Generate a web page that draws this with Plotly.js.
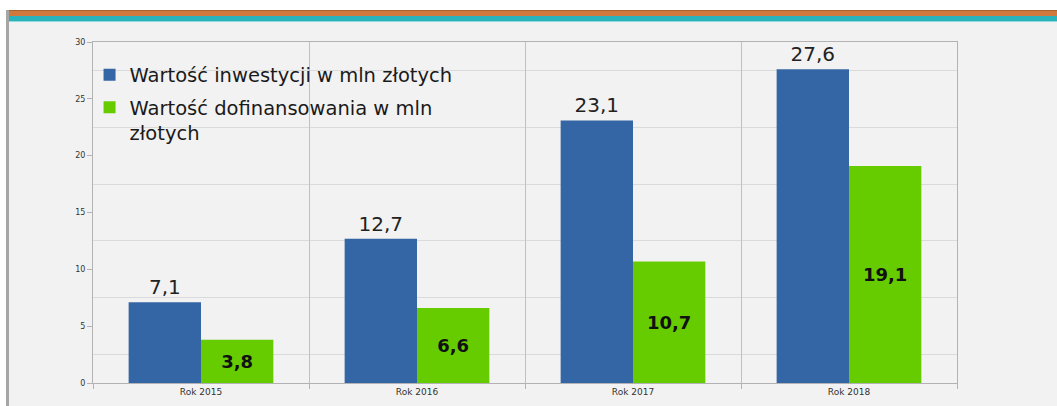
<!DOCTYPE html>
<html>
<head>
<meta charset="utf-8">
<script src="https://cdn.plot.ly/plotly-3.0.1.min.js"></script>
<style>
  html, body { margin:0; padding:0; width:1057px; height:406px; overflow:hidden; background:#f2f2f2; }
  #top-white { position:absolute; left:0; top:0; width:1057px; height:10px; background:#ffffff; }
  #band-orange { position:absolute; left:9px; top:10px; width:1048px; height:6px; background:#cf7a3c; border-top:1px solid #a86232; box-sizing:border-box; }
  #band-teal { position:absolute; left:9px; top:16px; width:1048px; height:6px; background:#2bb3bb; border-bottom:1px solid #8fdbe0; box-sizing:border-box; }
  #left-white { position:absolute; left:0; top:0; width:6px; height:406px; background:#ffffff; }
  #left-border { position:absolute; left:6px; top:10px; width:3px; height:396px; background:#a6a6a6; }
  #chart { position:absolute; left:0; top:0; width:1057px; height:406px; }
</style>
</head>
<body>
<div id="top-white"></div>
<div id="left-white"></div>
<div id="band-orange"></div>
<div id="band-teal"></div>
<div id="left-border"></div>
<div id="chart"></div>
<script>
const categories = ["Rok 2015", "Rok 2016", "Rok 2017", "Rok 2018"];
const seriesNames = ["Wartość inwestycji w mln złotych", "Wartość dofinansowania w mln<br>złotych"];
const investment = [7.1, 12.7, 23.1, 27.6];
const cofinancing = [3.8, 6.6, 10.7, 19.1];
const yTicks = [0, 5, 10, 15, 20, 25, 30];

const FONT = "DejaVu Sans, Verdana, sans-serif";

const traces = [
  {
    type: "bar",
    name: seriesNames[0],
    legendgroup: "a",
    x: categories,
    y: investment,
    marker: { color: "#3465a4", line: { width: 0 } },
    texttemplate: "%{y:.1f}",
    textposition: "outside",
    cliponaxis: false,
    textfont: { family: FONT, size: 20, color: "#222222" },
    hoverinfo: "x+y"
  },
  {
    type: "bar",
    name: seriesNames[1],
    legendgroup: "b",
    x: categories,
    y: cofinancing,
    marker: { color: "#66cc00", line: { width: 0 } },
    texttemplate: "%{y:.1f}",
    textposition: "inside",
    insidetextanchor: "middle",
    constraintext: "none",
    textangle: 0,
    textfont: { family: FONT, size: 18, color: "#111111", weight: "bold" },
    hoverinfo: "x+y"
  }
];

const layout = {
  width: 1057,
  height: 406,
  margin: { l: 93, r: 100, t: 42, b: 23, pad: 0 },
  paper_bgcolor: "rgba(0,0,0,0)",
  plot_bgcolor: "#f2f2f2",
  separators: ",.",
  barmode: "group",
  bargap: 0.33,
  bargroupgap: 0,
  font: { family: FONT, color: "#333333" },
  showlegend: true,
  legend: {
    x: -0.004, xanchor: "left",
    y: 0.96, yanchor: "top",
    bgcolor: "rgba(0,0,0,0)",
    borderwidth: 0,
    font: { family: FONT, size: 19.5, color: "#1a1a1a" },
    valign: "top",
    traceorder: "grouped",
    tracegroupgap: 4,
    itemclick: false
  },
  xaxis: {
    type: "category",
    range: [-0.5, 3.5],
    tickson: "boundaries",
    ticks: "outside",
    ticklen: 5,
    tickcolor: "#b3b3b3",
    showgrid: true,
    gridcolor: "#c0c0c0",
    gridwidth: 1,
    showline: true,
    linecolor: "#b3b3b3",
    linewidth: 1,
    mirror: true,
    tickfont: { family: FONT, size: 9, color: "#333333" },
    zeroline: false,
    fixedrange: true
  },
  yaxis: {
    range: [0, 30],
    tickmode: "array",
    tickvals: yTicks,
    ticktext: yTicks.map(String),
    ticks: "outside",
    ticklen: 5,
    tickcolor: "#b3b3b3",
    showgrid: false,
    zeroline: false,
    showline: true,
    linecolor: "#b3b3b3",
    linewidth: 1,
    mirror: true,
    tickfont: { family: FONT, size: 8, color: "#333333" },
    minor: { tick0: 2.5, dtick: 5, showgrid: true, gridcolor: "#dadada", gridwidth: 1, ticks: "" },
    fixedrange: true
  }
};

Plotly.newPlot("chart", traces, layout, { displayModeBar: false, staticPlot: true });
</script>
</body>
</html>
